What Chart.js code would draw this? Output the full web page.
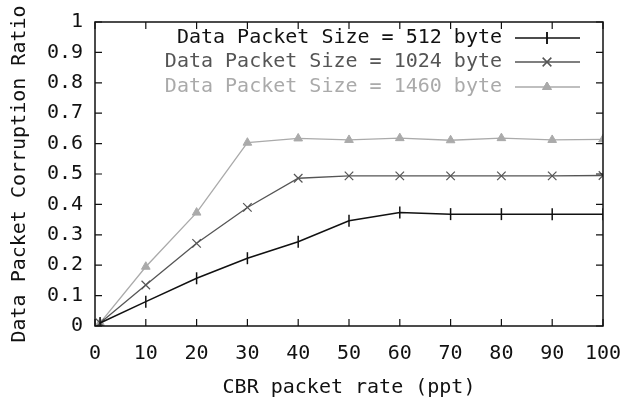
<!DOCTYPE html>
<html><head><meta charset="utf-8">
<script src="https://cdn.jsdelivr.net/npm/chart.js@4"></script>
<style>html,body{margin:0;padding:0;background:#fff}#c{display:block}</style>
</head><body>
<canvas id="c" width="631" height="398"></canvas>
<script>
const xValues = [1, 10, 20, 30, 40, 50, 60, 70, 80, 90, 100];
const size512 = [0.01, 0.08, 0.157, 0.223, 0.277, 0.346, 0.373, 0.368, 0.368, 0.368, 0.368];
const size1024 = [0.01, 0.135, 0.272, 0.39, 0.486, 0.494, 0.494, 0.494, 0.494, 0.494, 0.495];
const size1460 = [0.01, 0.195, 0.373, 0.603, 0.617, 0.612, 0.618, 0.611, 0.618, 0.612, 0.614];
const seriesLabels = ['Data Packet Size = 512 byte', 'Data Packet Size = 1024 byte', 'Data Packet Size = 1460 byte'];
const xTicks = [0, 10, 20, 30, 40, 50, 60, 70, 80, 90, 100];
const yTicks = [0, 0.1, 0.2, 0.3, 0.4, 0.5, 0.6, 0.7, 0.8, 0.9, 1];
const yTickLabels = ['0', '0.1', '0.2', '0.3', '0.4', '0.5', '0.6', '0.7', '0.8', '0.9', '1'];

const FONT = '"DejaVu Sans Mono", monospace';
const FS = 20;
const pts = arr => arr.map((v, i) => ({x: xValues[i], y: v}));

const insideTicks = {
  id: 'insideTicks',
  afterDatasetsDraw(chart) {
    const {ctx, chartArea: a, scales} = chart;
    ctx.save();
    ctx.strokeStyle = '#111';
    ctx.lineWidth = 1.5;
    ctx.strokeRect(a.left, a.top, a.right - a.left, a.bottom - a.top);
    ctx.lineWidth = 1.2;
    const L = 7;
    xTicks.forEach(v => {
      const px = scales.x.getPixelForValue(v);
      ctx.beginPath();
      ctx.moveTo(px, a.bottom); ctx.lineTo(px, a.bottom - L);
      ctx.moveTo(px, a.top); ctx.lineTo(px, a.top + L);
      ctx.stroke();
    });
    yTicks.forEach(v => {
      const py = scales.y.getPixelForValue(v);
      ctx.beginPath();
      ctx.moveTo(a.left, py); ctx.lineTo(a.left + L, py);
      ctx.moveTo(a.right, py); ctx.lineTo(a.right - L, py);
      ctx.stroke();
    });
    // legend
    ctx.font = FS + 'px ' + FONT;
    ctx.textAlign = 'right';
    ctx.textBaseline = 'middle';
    const rows = [38, 62, 87];
    chart.data.datasets.forEach((ds, i) => {
      const y = rows[i];
      ctx.fillStyle = ds.borderColor;
      ctx.fillText(ds.label, 502, y);
      ctx.strokeStyle = ds.borderColor;
      ctx.lineWidth = ds.borderWidth;
      ctx.beginPath(); ctx.moveTo(515, y); ctx.lineTo(580, y); ctx.stroke();
      ctx.lineWidth = ds.pointBorderWidth || 1;
      Chart.helpers.drawPoint(ctx, {
        pointStyle: ds.pointStyle, radius: ds.pointRadius, rotation: ds.pointRotation || 0,
        borderWidth: ds.pointBorderWidth || 1
      }, 547, y);
      ctx.fillStyle = ds.pointBackgroundColor;
      ctx.strokeStyle = ds.borderColor;
      if (ds.pointStyle === 'triangle') { ctx.fill(); }
      ctx.stroke();
    });
    ctx.restore();
  }
};

new Chart(document.getElementById('c'), {
  type: 'line',
  data: {
    datasets: [
      {label: seriesLabels[0], data: pts(size512), borderColor: '#111', backgroundColor: '#111', pointBackgroundColor: '#111',
       borderWidth: 1.5, pointStyle: 'line', pointRotation: 90, pointRadius: 6, pointBorderWidth: 1.5},
      {label: seriesLabels[1], data: pts(size1024), borderColor: '#555', backgroundColor: '#555', pointBackgroundColor: '#555',
       borderWidth: 1.3, pointStyle: 'crossRot', pointRadius: 6, pointBorderWidth: 1.2},
      {label: seriesLabels[2], data: pts(size1460), borderColor: '#aaa', backgroundColor: '#aaa', pointBackgroundColor: '#aaa',
       borderWidth: 1.3, pointStyle: 'triangle', pointRadius: 5, pointBorderWidth: 1}
    ]
  },
  options: {
    responsive: false,
    animation: false,
    layout: {padding: {left: 0, right: 28, top: 22, bottom: 0}},
    plugins: {legend: {display: false}, tooltip: {enabled: false}},
    elements: {line: {tension: 0}},
    scales: {
      x: {
        type: 'linear', min: 0, max: 100,
        afterBuildTicks: s => { s.ticks = xTicks.map(v => ({value: v})); },
        afterFit: s => { s.height = 72; s.paddingLeft = 0; s.paddingRight = 0; },
        grid: {display: false, drawTicks: false},
        border: {display: false},
        ticks: {color: '#111', font: {family: FONT, size: FS}, padding: 16, maxRotation: 0},
        title: {display: true, text: 'CBR packet rate (ppt)', color: '#111', font: {family: FONT, size: FS}, padding: {top: 0, bottom: -2}}
      },
      y: {
        type: 'linear', min: 0, max: 1,
        afterBuildTicks: s => { s.ticks = yTicks.map(v => ({value: v})); },
        afterFit: s => { s.width = 95; s.paddingTop = 0; s.paddingBottom = 0; },
        grid: {display: false, drawTicks: false},
        border: {display: false},
        ticks: {color: '#111', font: {family: FONT, size: FS}, padding: 12,
                callback: (v, i) => yTickLabels[i]},
        title: {display: true, text: 'Data Packet Corruption Ratio', color: '#111', font: {family: FONT, size: FS}, padding: {top: 8, bottom: 0}}
      }
    }
  },
  plugins: [insideTicks]
});
</script>
</body></html>
